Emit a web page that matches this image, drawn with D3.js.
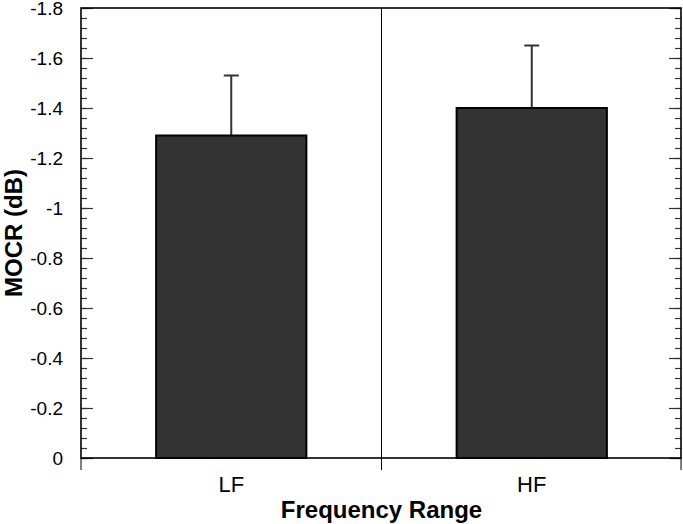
<!DOCTYPE html>
<html>
<head>
<meta charset="utf-8">
<script src="https://cdn.jsdelivr.net/npm/d3@7"></script>
<style>
  body { margin: 0; background: #fff; }
  svg { display: block; font-family: "Liberation Sans", Arial, sans-serif; }
</style>
</head>
<body>
<div id="chart-area"></div>
<script>
// dane
const categories = ["LF", "HF"];
const mocr = [-1.29, -1.40];
const errTop = [-1.53, -1.65];
const yTicks = [0, -0.2, -0.4, -0.6, -0.8, -1, -1.2, -1.4, -1.6, -1.8];

const W = 683, H = 524;
const m = { left: 81, right: 1, top: 8, bottom: 66 };

let svg = d3.select("#chart-area").append("svg")
    .attr("width", W)
    .attr("height", H);

let x = d3.scaleBand()
    .domain(categories)
    .range([m.left, W - m.right])
    .paddingInner(0.5)
    .paddingOuter(0.25);

// os y odwrocona: 0 na dole, -1.8 na gorze
let y = d3.scaleLinear()
    .domain([0, -1.8])
    .range([H - m.bottom, m.top]);

let minor = d3.range(0, 46).map(i => -i * 0.04);

// zwykly minus zamiast unicode
let fmt = d => String(+d.toFixed(1));

// lewa os
let yLeft = svg.append("g").attr("transform", `translate(${m.left},0)`);
yLeft.call(d3.axisLeft(y).tickValues(minor).tickSize(-6).tickFormat(""))
    .call(g => g.select(".domain").remove());
yLeft.append("g").call(d3.axisLeft(y).tickValues(yTicks).tickSize(-12).tickPadding(18).tickFormat(fmt))
    .call(g => g.select(".domain").remove())
    .call(g => g.selectAll("text").attr("font-size", 19).attr("fill", "#000")
        .attr("dy", "0.36em")
        .attr("font-family", "Liberation Sans, Arial, sans-serif"));

// prawa os
let yRight = svg.append("g").attr("transform", `translate(${W - m.right - 1},0)`);
yRight.call(d3.axisRight(y).tickValues(minor).tickSize(-6).tickFormat(""))
    .call(g => g.select(".domain").remove());
yRight.append("g").call(d3.axisRight(y).tickValues(yTicks).tickSize(-12).tickFormat(""))
    .call(g => g.select(".domain").remove());

svg.selectAll(".tick line").attr("stroke", "#333").attr("stroke-width", 1.2);

// linia podzialu srodkowa
let mid = (x("LF") + x.bandwidth() + x("HF")) / 2;
svg.append("line")
    .attr("x1", mid).attr("x2", mid)
    .attr("y1", m.top).attr("y2", H - m.bottom + 12)
    .attr("stroke", "#000").attr("stroke-width", 1);
[m.left, W - m.right - 1].forEach(px => {
    svg.append("line")
        .attr("x1", px).attr("x2", px)
        .attr("y1", H - m.bottom).attr("y2", H - m.bottom + 12)
        .attr("stroke", "#000").attr("stroke-width", 1);
});

// slupki
let data = categories.map((c, i) => ({ c: c, v: mocr[i], e: errTop[i] }));

svg.selectAll(".err")
    .data(data).enter()
    .append("line")
    .attr("class", "err")
    .attr("x1", d => x(d.c) + x.bandwidth() / 2)
    .attr("x2", d => x(d.c) + x.bandwidth() / 2)
    .attr("y1", d => y(d.v))
    .attr("y2", d => y(d.e))
    .attr("stroke", "#333").attr("stroke-width", 2);

svg.selectAll(".cap")
    .data(data).enter()
    .append("line")
    .attr("class", "cap")
    .attr("x1", d => x(d.c) + x.bandwidth() / 2 - 7.5)
    .attr("x2", d => x(d.c) + x.bandwidth() / 2 + 7.5)
    .attr("y1", d => y(d.e))
    .attr("y2", d => y(d.e))
    .attr("stroke", "#333").attr("stroke-width", 2);

svg.selectAll(".bar")
    .data(data).enter()
    .append("rect")
    .attr("class", "bar")
    .attr("x", d => x(d.c))
    .attr("y", d => y(d.v))
    .attr("width", x.bandwidth())
    .attr("height", d => y(0) - y(d.v))
    .attr("fill", "#333")
    .attr("stroke", "#000")
    .attr("stroke-width", 2);

// ramka
svg.append("rect")
    .attr("x", m.left).attr("y", m.top)
    .attr("width", W - m.right - 1 - m.left)
    .attr("height", H - m.bottom - m.top)
    .attr("fill", "none")
    .attr("stroke", "#000").attr("stroke-width", 1.6);

// etykiety kategorii
svg.selectAll(".cat")
    .data(categories).enter()
    .append("text")
    .attr("x", d => x(d) + x.bandwidth() / 2)
    .attr("y", 492)
    .attr("text-anchor", "middle")
    .attr("font-size", 22)
    .text(d => d);

svg.append("text")
    .attr("x", mid).attr("y", 518)
    .attr("text-anchor", "middle")
    .attr("font-size", 24).attr("font-weight", "bold")
    .text("Frequency Range");

svg.append("text")
    .attr("transform", `translate(22,${(m.top + H - m.bottom) / 2}) rotate(-90)`)
    .attr("text-anchor", "middle")
    .attr("font-size", 24).attr("font-weight", "bold")
    .text("MOCR (dB)");
</script>
</body>
</html>
